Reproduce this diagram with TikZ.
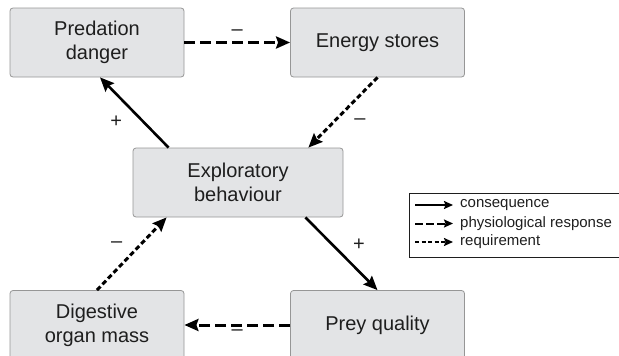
\documentclass[tikz,border=0pt]{standalone}
\usepackage{fontspec}
\setmainfont{Liberation Sans}
\usetikzlibrary{arrows.meta, calc}

\definecolor{boxfill}{RGB}{227,228,230}
\definecolor{boxline}{RGB}{150,150,150}
\definecolor{inkgray}{RGB}{30,30,30}

\begin{document}
\begin{tikzpicture}[x=1pt, y=-1pt,
    >={Stealth[length=14pt, width=12pt, inset=2pt]},
    stage/.style={draw=boxline, fill=boxfill, line width=0.8pt, rounded corners=3pt,
        minimum width=174pt, minimum height=69pt, align=center, text=inkgray,
        font=\fontsize{20}{24}\selectfont},
    consequence/.style={->, line width=2.6pt},
    response/.style={->, line width=3pt, dash pattern=on 11pt off 5pt},
    requirement/.style={->, line width=3pt, dash pattern=on 5pt off 3pt},
    sign/.style={inner sep=0pt, text=inkgray, font=\fontsize{20}{24}\selectfont},
    keyarrow/.style={-{Stealth[length=9pt, width=8pt, inset=1.5pt]}, line width=2pt},
    solidkey/.style={keyarrow},
    phykey/.style={keyarrow, dash pattern=on 8pt off 3pt},
    reqkey/.style={keyarrow, dash pattern=on 4pt off 2.5pt},
    keytext/.style={anchor=west, inner sep=0pt, text=inkgray,
        font=\fontsize{15}{18}\selectfont}]

    % ── Frame (bottom boxes run off the lower edge) ──────────────────────────
    \useasboundingbox (0,0) rectangle (619,356);
    \clip (0,0) rectangle (619,356);

    % ── Boxes ────────────────────────────────────────────────────────────────
    \node[stage] (pred)   at (97,42.5)   {Predation\\danger};
    \node[stage] (energy) at (377.5,42.5) {Energy stores};
    \node[stage, minimum width=210pt] (explore) at (238,182.5) {Exploratory\\behaviour};
    \node[stage] (digest) at (97,325)    {Digestive\\organ mass};
    \node[stage] (prey)   at (377.5,325) {Prey quality};

    % ── Upper triangle ───────────────────────────────────────────────────────
    \draw[consequence] ($(explore.north west)+(36,0)$) -- ($(pred.south)+(3,0)$)
        node[sign, pos=0.37, xshift=-27pt] {+};
    \draw[response] (pred) -- (energy)
        node[sign, midway, yshift=10pt] {–};
    \draw[requirement] (energy.south) -- ($(explore.north east)+(-35,0)$)
        node[sign, pos=0.63, xshift=26pt] {–};

    % ── Lower triangle ───────────────────────────────────────────────────────
    \draw[consequence] ($(explore.south east)+(-38,0)$) -- (prey.north)
        node[sign, pos=0.37, xshift=27pt] {+};
    \draw[response] (prey) -- (digest)
        node[sign, midway, yshift=-8pt] {–};
    \draw[requirement] (digest.north) -- ($(explore.south west)+(34,0)$)
        node[sign, pos=0.62, xshift=-23.5pt] {–};

    % ── Legend ───────────────────────────────────────────────────────────────
    \draw[inkgray, line width=0.8pt] (409,193) rectangle (630,257);
    \foreach \key/\ypos/\txt/\kind in {keyA/205/consequence/solidkey,
            keyB/223.5/physiological response/phykey,
            keyC/242/requirement/reqkey} {
        \node[keytext] (\key) at (460,\ypos) {\txt};
        \coordinate (\key tail) at (415,\ypos);
        \draw[\kind] (\key tail) -- ([xshift=-7pt]\key.west);
    }

\end{tikzpicture}
\end{document}
